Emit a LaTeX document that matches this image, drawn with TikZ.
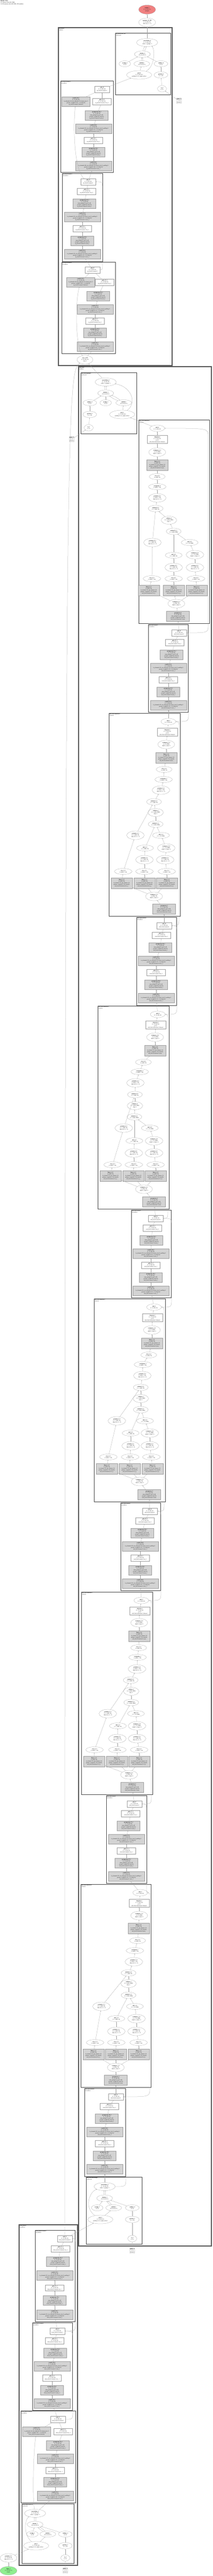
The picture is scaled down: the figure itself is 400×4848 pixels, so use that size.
\documentclass[tikz,border=0pt]{standalone}
\usepackage{fontspec}
\setmainfont{Liberation Serif}
\usetikzlibrary{arrows.meta,shapes.geometric}
\definecolor{outred}{HTML}{F08080}
\definecolor{ingreen}{HTML}{90EE90}
\definecolor{gfill}{HTML}{D3D3D3}
\tikzset{
 every node/.style={font=\fontsize{2.3}{3.0}\selectfont, align=center, inner sep=0.4pt},
 op/.style={draw=gray!75, ellipse, line width=0.25pt},
 wb/.style={draw=gray!75, rectangle, line width=0.25pt},
 gb/.style={draw=gray!75, rectangle, fill=gfill, line width=0.25pt},
 buf/.style={draw=gray!75, cylinder, shape border rotate=90, aspect=0.12, line width=0.25pt},
 cl/.style={draw=black!70, line width=0.7pt},
 bcl/.style={draw=black!65, line width=1.5pt},
 ed/.style={draw=gray!75, line width=0.25pt, -{Stealth[length=1.5pt,width=1.3pt]}},
 clab/.style={anchor=north west, align=left, inner sep=0.3pt, font=\fontsize{2.0}{2.4}\selectfont},
}
\newcommand\apts[2]{\foreach \k/\x/\y in {#2} {\coordinate (#1-\k) at (\x,\y);}}
% resnet block: prefix, id, xadd, xgelu2, xnorm2, xconv, y0, scale
\newcommand\rblock[8]{%
\node[wb,minimum width=28,minimum height=11.5] (#1add) at (#3,#7) {\textbf{add\_#2}\\(1, 32, 64, 64)\\\curmod};
\node[wb,minimum width=35,minimum height=11.5] (#1g2) at (#4,{#7+18*#8}) {\textbf{gelu\_#2\_2}\\(1, 32, 64, 64)\\\curmod.act\_2};
\node[gb,minimum width=43,minimum height=18] (#1n2) at (#5,{#7+41*#8}) {\textbf{groupnorm\_#2\_2}\\(1, 32, 64, 64)\\num\_groups=8, eps=1e-05\\params: weight(32), bias(32)\\\curmod.norm\_2};
\node[gb,minimum width=68,minimum height=18] (#1c2) at (#6,{#7+66*#8}) {\textbf{conv2d\_#2\_2}\\(1, 32, 64, 64)\\in\_channels=32, out\_channels=32, kernel\_size=3, padding=1\\params: weight(32, 32, 3, 3), bias(32)\\\curmod.conv\_2};
\node[wb,minimum width=35,minimum height=11.5] (#1g1) at (#6,{#7+88*#8}) {\textbf{gelu\_#2\_1}\\(1, 32, 64, 64)\\\curmod.act\_1};
\node[gb,minimum width=43,minimum height=18] (#1n1) at (#6,{#7+111*#8}) {\textbf{groupnorm\_#2\_1}\\(1, 32, 64, 64)\\num\_groups=8, eps=1e-05\\params: weight(32), bias(32)\\\curmod.norm\_1};
\node[gb,minimum width=68,minimum height=18] (#1c1) at (#6,{#7+136*#8}) {\textbf{conv2d\_#2\_1}\\(1, 32, 64, 64)\\in\_channels=32, out\_channels=32, kernel\_size=3, padding=1\\params: weight(32, 32, 3, 3), bias(32)\\\curmod.conv\_1};
\draw[ed] (#1c1)--(#1n1); \draw[ed] (#1n1)--(#1g1); \draw[ed] (#1g1)--(#1c2);
\draw[ed] (#1c2)--(#1n2); \draw[ed] (#1n2)--(#1g2); \draw[ed] (#1g2)--(#1add);
}
% resnet block with shortcut: prefix, id, xadd, xgelu2, xnorm2, xconv, y0, xshortcut
\newcommand\rsblock[8]{%
\node[wb,minimum width=28,minimum height=11.5] (#1add) at (#3,#7) {\textbf{add\_#2}\\(1, 32, 64, 64)\\\curmod};
\node[gb,minimum width=53,minimum height=18] (#1cs) at (#8,{#7+23}) {\textbf{conv2d\_#2\_3}\\(1, 32, 64, 64)\\in\_channels=64, out\_channels=32, kernel\_size=1\\params: weight(32, 64, 1, 1), bias(32)\\\curmod.shortcut};
\node[wb,minimum width=35,minimum height=11.5] (#1g2) at (#4,{#7+23}) {\textbf{gelu\_#2\_2}\\(1, 32, 64, 64)\\\curmod.act\_2};
\node[gb,minimum width=43,minimum height=18] (#1n2) at (#5,{#7+49}) {\textbf{groupnorm\_#2\_2}\\(1, 32, 64, 64)\\num\_groups=8, eps=1e-05\\params: weight(32), bias(32)\\\curmod.norm\_2};
\node[gb,minimum width=68,minimum height=18] (#1c2) at (#6,{#7+74}) {\textbf{conv2d\_#2\_2}\\(1, 32, 64, 64)\\in\_channels=32, out\_channels=32, kernel\_size=3, padding=1\\params: weight(32, 32, 3, 3), bias(32)\\\curmod.conv\_2};
\node[wb,minimum width=35,minimum height=11.5] (#1g1) at (#6,{#7+96}) {\textbf{gelu\_#2\_1}\\(1, 32, 64, 64)\\\curmod.act\_1};
\node[gb,minimum width=43,minimum height=18] (#1n1) at (#6,{#7+118}) {\textbf{groupnorm\_#2\_1}\\(1, 32, 64, 64)\\num\_groups=8, eps=1e-05\\params: weight(32), bias(32)\\\curmod.norm\_1};
\node[gb,minimum width=68,minimum height=18] (#1c1) at (#6,{#7+144}) {\textbf{conv2d\_#2\_1}\\(1, 32, 64, 64)\\in\_channels=64, out\_channels=32, kernel\_size=3, padding=1\\params: weight(32, 64, 3, 3), bias(32)\\\curmod.conv\_1};
\draw[ed] (#1c1)--(#1n1); \draw[ed] (#1n1)--(#1g1); \draw[ed] (#1g1)--(#1c2);
\draw[ed] (#1c2)--(#1n2); \draw[ed] (#1n2)--(#1g2); \draw[ed] (#1g2)--(#1add);
\draw[ed] (#1cs)--(#1add);
}
% attention block nodes
\newcommand\ablock[2]{%
\node[op,minimum width=28,minimum height=12] (#1add) at (#1-add) {\textbf{add\_#2}\\(1, 32, 64, 64)};
\node[wb,minimum width=38,minimum height=15] (#1drop) at (#1-drop) {\textbf{dropout\_#2}\\(1, 32, 64, 64)\\p=0.0\\\curmod.dropout};
\node[op,minimum width=32,minimum height=16] (#1tro) at (#1-tro) {\textbf{transpose\_#2\_3}\\(1, 32, 4096)\\dim0=1, dim1=2};
\node[gb,minimum width=40,minimum height=20] (#1lo) at (#1-lo) {\textbf{linear\_#2\_4}\\(1, 4096, 32)\\in\_features=32, out\_features=32\\params: weight(32, 32), bias(32)\\\curmod.proj};
\node[op,minimum width=30,minimum height=11] (#1vo) at (#1-vo) {\textbf{view\_#2\_4}\\(1, 4096, 32)};
\node[op,minimum width=33,minimum height=11] (#1ct) at (#1-ct) {\textbf{contiguous\_#2}\\(1, 4096, 1, 32)};
\node[op,minimum width=33,minimum height=16] (#1po) at (#1-po) {\textbf{permute\_#2\_4}\\(1, 4096, 1, 32)\\dims=(0, 2, 1, 3)};
\node[op,minimum width=28,minimum height=12] (#1mmb) at (#1-mmb) {\textbf{matmul\_#2\_2}\\(1, 1, 4096, 32)};
\node[op,minimum width=29,minimum height=15] (#1sm) at (#1-sm) {\textbf{softmax\_#2}\\(1, 1, 4096, 4096)\\dim=-1};
\node[op,minimum width=28,minimum height=12] (#1mma) at (#1-mma) {\textbf{matmul\_#2\_1}\\(1, 1, 4096, 4096)};
\node[op,minimum width=33,minimum height=16] (#1pL) at (#1-pL) {\textbf{permute\_#2\_3}\\(1, 1, 4096, 32)\\dims=(0, 2, 1, 3)};
\node[op,minimum width=32,minimum height=11] (#1mR) at (#1-mR) {\textbf{mul\_#2\_2}\\(1, 1, 32, 4096)};
\node[op,minimum width=32,minimum height=11] (#1mM) at (#1-mM) {\textbf{mul\_#2\_1}\\(1, 1, 4096, 32)};
\node[op,minimum width=33,minimum height=16] (#1tK) at (#1-tK) {\textbf{transpose\_#2\_2}\\(1, 1, 32, 4096)\\dim0=-1, dim1=-2};
\node[op,minimum width=33,minimum height=16] (#1pM) at (#1-pM) {\textbf{permute\_#2\_1}\\(1, 1, 4096, 32)\\dims=(0, 2, 1, 3)};
\node[op,minimum width=33,minimum height=16] (#1pR) at (#1-pR) {\textbf{permute\_#2\_2}\\(1, 1, 4096, 32)\\dims=(0, 2, 1, 3)};
\node[op,minimum width=33,minimum height=11] (#1vL) at (#1-vL) {\textbf{view\_#2\_3}\\(1, 4096, 1, 32)};
\node[op,minimum width=33,minimum height=11] (#1vM) at (#1-vM) {\textbf{view\_#2\_1}\\(1, 4096, 1, 32)};
\node[op,minimum width=33,minimum height=11] (#1vR) at (#1-vR) {\textbf{view\_#2\_2}\\(1, 4096, 1, 32)};
\node[gb,minimum width=40,minimum height=20] (#1lL) at (#1-lL) {\textbf{linear\_#2\_3}\\(1, 4096, 32)\\in\_features=32, out\_features=32\\params: weight(32, 32), bias(32)\\\curmod.to\_v};
\node[gb,minimum width=40,minimum height=20] (#1lM) at (#1-lM) {\textbf{linear\_#2\_1}\\(1, 4096, 32)\\in\_features=32, out\_features=32\\params: weight(32, 32), bias(32)\\\curmod.to\_q};
\node[gb,minimum width=40,minimum height=20] (#1lR) at (#1-lR) {\textbf{linear\_#2\_2}\\(1, 4096, 32)\\in\_features=32, out\_features=32\\params: weight(32, 32), bias(32)\\\curmod.to\_k};
\node[op,minimum width=32,minimum height=16] (#1ti) at (#1-ti) {\textbf{transpose\_#2\_1}\\(1, 4096, 32)\\dim0=1, dim1=2};
\node[gb,minimum width=43,minimum height=19] (#1gn) at (#1-gn) {\textbf{groupnorm\_#2}\\(1, 32, 64, 64)\\num\_groups=8, eps=1e-06\\params: weight(32), bias(32)\\\curmod.norm};
}
\newcommand\ablockE[2]{%
\draw[ed] (#2)--(#1gn); \draw[ed] (#1gn)--(#1ti);
\draw[ed] (#1ti)--(#1lL); \draw[ed] (#1ti)--(#1lM); \draw[ed] (#1ti)--(#1lR);
\draw[ed] (#1lL)--(#1vL); \draw[ed] (#1lM)--(#1vM); \draw[ed] (#1lR)--(#1vR);
\draw[ed] (#1vL)--(#1pL); \draw[ed] (#1vM)--(#1pM); \draw[ed] (#1vR)--(#1pR);
\draw[ed] (#1pR)--(#1tK); \draw[ed] (#1pM)--(#1mM); \draw[ed] (#1tK)--(#1mR);
\draw[ed] (#1mM)--(#1mma); \draw[ed] (#1mR)--(#1mma);
\draw[ed] (#1mma)--(#1sm); \draw[ed] (#1sm)--(#1mmb); \draw[ed] (#1pL)--(#1mmb);
\draw[ed] (#1mmb)--(#1po); \draw[ed] (#1po)--(#1ct); \draw[ed] (#1ct)--(#1vo);
\draw[ed] (#1vo)--(#1lo); \draw[ed] (#1lo)--(#1tro); \draw[ed] (#1tro)--(#1drop); \draw[ed] (#1drop)--(#1add);
}
% padded conv block
\newcommand\hblock[2]{%
\node[op,minimum width=40,minimum height=15] (#1e1) at (#1-e1) {\textbf{convolution\_#2}\\(1, 16, 64, 64)\\stride=1, groups=1};
\node[op,minimum width=30,minimum height=12] (#1e2) at (#1-e2) {\textbf{einsum\_#2}\\(16, 64, 64, 9)};
\node[op,minimum width=22,minimum height=11] (#1iso) at (#1-iso) {\textbf{arange\_#2}\\(16, 9)};
\node[op,minimum width=30,minimum height=11] (#1pin) at (#1-pin) {\textbf{unfold\_#2}\\(16, 64, 64, 9)};
\node[op,minimum width=26,minimum height=11] (#1gin) at (#1-gin) {\textbf{reshape\_#2}\\(16, 9)};
\node[op,minimum width=47,minimum height=16] (#1pad) at (#1-pad) {\textbf{pad\_#2}\\(1, 16, 66, 66)\\padding=(1, 1), mode=reflect};
\node[op,minimum width=26,minimum height=12] (#1git) at (#1-git) {\textbf{getitem\_#2}\\(3, 3, 16)};
\node[op,minimum width=17,minimum height=12] (#1to) at (#1-to) {\textbf{to\_#2}\\(3, 3)};
\node[buf] (#1buf) at (#1-buf) {\textbf{buffer\_#2}\\(3, 3)\\(kernel)};
\draw[ed] (#1e2) to[bend left=10] (#1e1);
\draw[ed] (#1e2) to[bend right=10] (#1e1);
\draw[ed] (#1iso)--(#1e2);
\draw[ed] (#1pin) to[bend left=8] (#1e2);
\draw[ed] (#1pin) to[bend right=8] (#1e2);
\draw[ed] (#1gin)--(#1e2);
\draw[ed] (#1pad)--(#1pin);
\draw[ed] (#1git)--(#1gin);
\draw[ed] (#1to)--(#1git);
\draw[ed] (#1buf)--(#1to);
}
% residual bypass: src, dst, x of vertical run, y of src, y of dst
\newcommand\resid[5]{\draw[ed] (#1) .. controls (#3,#4) .. (#3,{#4-15}) -- (#3,{#5+15}) .. controls (#3,#5) .. (#2);}
\begin{document}
\begin{tikzpicture}[x=1pt,y=-1pt]
\fill[white] (0,0) rectangle (400,4848);
\useasboundingbox (0,0) rectangle (400,4848);
% header
\node[anchor=north west, align=left, inner sep=0pt, font=\fontsize{2.4}{2.7}\selectfont] (hdr) at (1,1) {\textbf{Model: UNet}\\312 tensors total (48.2 MB)\\12,345 params total (48.2 KB), 300 modules};
% clusters
\draw[bcl] (110,52) rectangle (324,688);
\draw[cl] (217,62) rectangle (321,178);
\draw[cl] (114,152) rectangle (213,324);
\draw[cl] (117,326) rectangle (193,492);
\draw[cl] (116,493) rectangle (217,665);
\draw[bcl] (148,690) rectangle (398,4227);
\draw[cl] (152,701) rectangle (257,816);
\draw[cl] (261,790) rectangle (394,1173);
\draw[cl] (279,1175) rectangle (354,1340);
\draw[cl] (205,1342) rectangle (339,1724);
\draw[cl] (257,1726) rectangle (332,1892);
\draw[cl] (184,1893) rectangle (318,2275);
\draw[cl] (247,2277) rectangle (322,2442);
\draw[cl] (177,2444) rectangle (311,2826);
\draw[cl] (227,2828) rectangle (302,2993);
\draw[cl] (153,2996) rectangle (287,3377);
\draw[cl] (200,3379) rectangle (276,3544);
\draw[cl] (152,3546) rectangle (284,3928);
\draw[cl] (159,3930) rectangle (236,4096);
\draw[cl] (162,4097) rectangle (267,4223);
\draw[bcl] (36,4187) rectangle (146,4828);
\draw[cl] (66,4197) rectangle (141,4369);
\draw[cl] (61,4371) rectangle (136,4536);
\draw[cl] (39,4537) rectangle (142,4710);
\draw[cl] (41,4712) rectangle (139,4824);
% cluster labels
\node[clab] (lD) at (111,53) {\textbf{up\_block.0}\\UpBlock};
\node[clab] (lHt) at (218,63) {\textbf{up\_block.0.conv\_out}\\PadConv2d};
\node[clab] (lRS1) at (115,153) {\textbf{up\_block.0.resnets.2}\\ResnetBlock};
\node[clab] (lR0) at (118,327) {\textbf{up\_block.0.resnets.1}\\ResnetBlock};
\node[clab] (lRS2) at (117,494) {\textbf{up\_block.0.resnets.0}\\ResnetBlock};
\node[clab] (lM) at (149,691) {\textbf{mid\_block}\\MidBlock};
\node[clab] (lHm) at (153,702) {\textbf{mid\_block.upsample}\\PadConv2d};
\node[clab] (lA1) at (262,791) {\textbf{mid\_block.attentions.5}\\Attention};
\node[clab] (lR1) at (280,1176) {\textbf{mid\_block.resnets.5}\\ResnetBlock};
\node[clab] (lA2) at (206,1343) {\textbf{mid\_block.attentions.4}\\Attention};
\node[clab] (lR2) at (258,1727) {\textbf{mid\_block.resnets.4}\\ResnetBlock};
\node[clab] (lA3) at (185,1894) {\textbf{mid\_block.attentions.3}\\Attention};
\node[clab] (lR3) at (248,2278) {\textbf{mid\_block.resnets.3}\\ResnetBlock};
\node[clab] (lA4) at (178,2445) {\textbf{mid\_block.attentions.2}\\Attention};
\node[clab] (lR4) at (228,2829) {\textbf{mid\_block.resnets.2}\\ResnetBlock};
\node[clab] (lA5) at (154,2997) {\textbf{mid\_block.attentions.1}\\Attention};
\node[clab] (lR5) at (201,3380) {\textbf{mid\_block.resnets.1}\\ResnetBlock};
\node[clab] (lA6) at (153,3547) {\textbf{mid\_block.attentions.0}\\Attention};
\node[clab] (lR6) at (160,3931) {\textbf{mid\_block.resnets.0}\\ResnetBlock};
\node[clab] (lHb) at (163,4098) {\textbf{mid\_block.downsample}\\PadConv2d};
\node[clab] (lB) at (37,4188) {\textbf{down\_block.0}\\DownBlock};
\node[clab] (lRb1) at (67,4198) {\textbf{down\_block.0.resnets.2}\\ResnetBlock};
\node[clab] (lRb2) at (62,4372) {\textbf{down\_block.0.resnets.1}\\ResnetBlock};
\node[clab] (lRSb) at (40,4538) {\textbf{down\_block.0.resnets.0}\\ResnetBlock};
\node[clab] (lHo) at (42,4713) {\textbf{down\_block.0.conv\_in}\\PadConv2d};
% top
\node[op,fill=outred,minimum width=32,minimum height=17] (out) at (277,18) {\textbf{output\_1}\\(1, 64, 64, 16)\\(output)};
\node[op,minimum width=32,minimum height=16] (permT) at (277,42) {\textbf{permute\_24\_184}\\(1, 64, 64, 16)\\dims=(0, 2, 3, 1)};
\apts{Ht}{e1/277/80, e2/268/102, iso/235/120, pin/267/120, gin/303/120, pad/262/141, git/303/141, to/305/167, buf/337/190}
\hblock{Ht}{4}
\def\curmod{up\_block.0.resnets.2}
\rsblock{RSa}{24}{192}{192}{182}{176}{168}{143}
\def\curmod{up\_block.0.resnets.1}
\rblock{R0}{23}{166}{163}{159}{155}{342}{1}
\def\curmod{up\_block.0.resnets.0}
\rsblock{RSc}{22}{174}{197}{185}{179}{508}{152}
\node[op,minimum width=30,minimum height=16] (cat) at (160,677) {\textbf{cat\_1\_108}\\(1, 64, 64, 64)\\dim=1};
% middle
\apts{Hm}{e1/199/719, e2/199/740, iso/199/758, pin/233/758, gin/169/758, pad/230/780, git/169/780, to/167/805, buf/135/827}
\hblock{Hm}{3}
\def\curmod{mid\_block.attentions.5}
\apts{A1}{add/296/806, drop/296/827, tro/296/851, lo/296/875, vo/296/897, ct/296/916, po/296/937, mmb/293/957, sm/318/979, mma/327/1000, pL/287/1021, mR/357/1021, mM/327/1045, tK/367/1044, pM/327/1068, pR/367/1068, vL/286/1089, vM/327/1089, vR/369/1089, lL/280/1111, lM/327/1111, lR/370/1111, ti/332/1136, gn/335/1160}
\ablock{A1}{6}
\def\curmod{mid\_block.resnets.5}
\rblock{R1}{21}{337}{329}{323}{317}{1191}{1}
\def\curmod{mid\_block.attentions.4}
\apts{A2}{add/317/1358, drop/315/1378, tro/313/1401, lo/313/1426, vo/309/1448, ct/308/1467, po/303/1487, mmb/290/1509, sm/293/1529, mma/293/1551, pL/255/1572, mR/303/1572, mM/273/1596, tK/313/1596, pM/272/1618, pR/311/1618, vL/232/1640, vM/272/1640, vR/314/1640, lL/229/1662, lM/272/1662, lR/314/1662, ti/290/1687, gn/309/1711}
\ablock{A2}{5}
\def\curmod{mid\_block.resnets.4}
\rblock{R2}{20}{309}{304}{302}{294}{1742}{1}
\def\curmod{mid\_block.attentions.3}
\apts{A3}{add/297/1909, drop/293/1929, tro/292/1952, lo/292/1977, vo/270/1999, ct/263/2017, po/255/2038, mmb/254/2060, sm/254/2081, mma/253/2102, pL/233/2123, mR/282/2123, mM/253/2147, tK/290/2147, pM/252/2170, pR/290/2170, vL/212/2192, vM/252/2192, vR/293/2192, lL/208/2213, lM/251/2213, lR/293/2213, ti/271/2238, gn/290/2262}
\ablock{A3}{4}
\def\curmod{mid\_block.resnets.3}
\rblock{R3}{19}{293}{287}{285}{284}{2293}{1}
\def\curmod{mid\_block.attentions.2}
\apts{A4}{add/290/2460, drop/287/2480, tro/286/2503, lo/286/2528, vo/280/2550, ct/269/2568, po/268/2589, mmb/265/2611, sm/265/2632, mma/265/2653, pL/220/2674, mR/273/2674, mM/246/2697, tK/282/2697, pM/246/2721, pR/282/2721, vL/204/2742, vM/245/2742, vR/285/2742, lL/201/2764, lM/244/2764, lR/287/2764, ti/263/2788, gn/281/2813}
\ablock{A4}{3}
\def\curmod{mid\_block.resnets.2}
\rblock{R4}{18}{282}{273}{268}{264}{2844}{1}
\def\curmod{mid\_block.attentions.1}
\apts{A5}{add/266/3012, drop/263/3032, tro/262/3054, lo/262/3079, vo/261/3101, ct/259/3119, po/258/3141, mmb/246/3162, sm/247/3183, mma/247/3204, pL/203/3225, mR/256/3225, mM/222/3248, tK/258/3248, pM/221/3272, pR/258/3272, vL/178/3293, vM/221/3293, vR/262/3293, lL/177/3315, lM/220/3315, lR/262/3315, ti/243/3340, gn/249/3364}
\ablock{A5}{2}
\def\curmod{mid\_block.resnets.1}
\rblock{R5}{17}{253}{246}{242}{238}{3395}{1}
\def\curmod{mid\_block.attentions.0}
\apts{A6}{add/264/3562, drop/262/3582, tro/262/3605, lo/261/3629, vo/259/3652, ct/254/3671, po/252/3692, mmb/242/3713, sm/242/3733, mma/242/3755, pL/191/3776, mR/254/3776, mM/219/3799, tK/257/3799, pM/219/3823, pR/257/3823, vL/179/3844, vM/219/3844, vR/261/3844, lL/176/3866, lM/218/3866, lR/261/3866, ti/218/3891, gn/218/3915}
\ablock{A6}{1}
\def\curmod{mid\_block.resnets.0}
\rblock{R6}{16}{218}{206}{201}{197}{3946}{1}
\apts{Hb}{e1/197/4115, e2/197/4137, iso/183/4155, pin/214/4155, gin/249/4155, pad/189/4177, git/249/4177, to/249/4213, buf/249/4236}
\hblock{Hb}{2}
% bottom
\def\curmod{down\_block.0.resnets.2}
\rblock{Rb1}{15}{122}{114}{109}{103}{4213}{1.05}
\def\curmod{down\_block.0.resnets.1}
\rblock{Rb2}{14}{108}{103}{104}{98}{4387}{1}
\def\curmod{down\_block.0.resnets.0}
\rsblock{RSb}{13}{109}{119}{109}{104}{4553}{69}
\apts{Ho}{e1/66/4730, e2/66/4751, iso/61/4769, pin/90/4769, gin/123/4769, pad/68/4791, git/123/4791, to/123/4814, buf/123/4838}
\hblock{Ho}{1}
\node[op,minimum width=32,minimum height=16] (permB) at (16,4814) {\textbf{permute\_1\_1}\\(1, 16, 64, 64)\\dims=(0, 3, 1, 2)};
\node[op,fill=ingreen,minimum width=32,minimum height=16] (inp) at (16,4838) {\textbf{input\_1}\\(1, 64, 64, 16)\\(input)};
% attention edges
\ablockE{A1}{R1add}
\ablockE{A2}{R2add}
\ablockE{A3}{R3add}
\ablockE{A4}{R4add}
\ablockE{A5}{R5add}
\ablockE{A6}{R6add}
% block inputs
\draw[ed] (A2add)--(R1c1);
\draw[ed] (A3add)--(R2c1);
\draw[ed] (A4add)--(R3c1);
\draw[ed] (A5add)--(R4c1);
\draw[ed] (A6add)--(R5c1);
\draw[ed] (Hbe1)--(R6c1);
\draw[ed] (Rb2add)--(Rb1c1);
\draw[ed] (RSbadd)--(Rb2c1);
\draw[ed] (Hoe1)--(RSbc1);
\draw[ed] (Hoe1) .. controls (61,4700) and (63,4610) .. (RSbcs);
\draw[ed] (R0add)--(RSac1);
\draw[ed] (R0add) .. controls (138,320) and (138,230) .. (RSacs);
\draw[ed] (RScadd)--(R0c1);
\draw[ed] (cat)--(RScc1);
\draw[ed] (cat) .. controls (142,650) and (141,570) .. (RSccs);
% residual bypasses
\resid{R1add}{A1add}{392}{1191}{806}
\resid{R2add}{A2add}{337}{1742}{1358}
\resid{R3add}{A3add}{316}{2293}{1909}
\resid{R4add}{A4add}{309}{2844}{2460}
\resid{R5add}{A5add}{285}{3395}{3012}
\resid{R6add}{A6add}{282}{3946}{3562}
\resid{A2add}{R1add}{355}{1358}{1191}
\resid{A3add}{R2add}{333}{1909}{1742}
\resid{A4add}{R3add}{323}{2460}{2293}
\resid{A5add}{R4add}{303}{3012}{2844}
\resid{A6add}{R5add}{276}{3562}{3395}
\resid{Hbe1}{R6add}{237}{4115}{3946}
\resid{RScadd}{R0add}{193}{508}{342}
\resid{Rb2add}{Rb1add}{142}{4387}{4213}
\resid{RSbadd}{Rb2add}{137}{4553}{4387}
% padded conv links
\draw[ed] (Htpad) .. controls (292,125) and (292,92) .. (Hte1);
\draw[ed] (Hmpad) .. controls (258,758) and (248,728) .. (Hme1);
\draw[ed] (Hbpad) .. controls (158,4155) and (168,4125) .. (Hbe1);
\draw[ed] (Hopad) .. controls (42,4768) and (48,4740) .. (Hoe1);
\draw[ed] (RSaadd)--(Htpad);
\draw[ed] (Hte1)--(permT);
\draw[ed] (permT)--(out);
\draw[ed] (A1add)--(Hmpad);
\draw[ed] (Hme1)--(cat);
\draw[ed] (Rb1add) .. controls (122,800) and (125,700) .. (cat);
\draw[ed] (Rb1add)--(Hbpad);
\draw[ed] (inp)--(permB);
\draw[ed] (permB)--(Hopad);
\end{tikzpicture}
\end{document}
